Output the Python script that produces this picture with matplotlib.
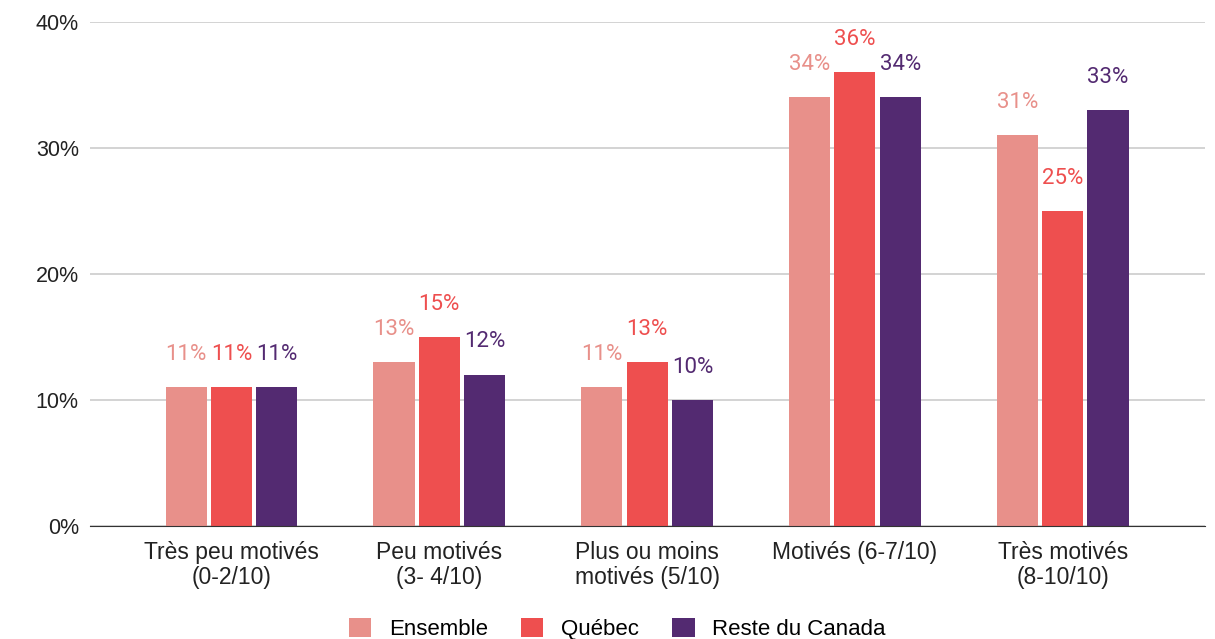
import numpy as np
import matplotlib.pyplot as plt

categories = ['Très peu motivés\n(0-2/10)', 'Peu motivés\n(3- 4/10)', 'Plus ou moins\nmotivés (5/10)',
              'Motivés (6-7/10)', 'Très motivés\n(8-10/10)']
series = ['Ensemble', 'Québec', 'Reste du Canada']
ensemble = [11, 13, 11, 34, 31]
quebec = [11, 15, 13, 36, 25]
reste = [11, 12, 10, 34, 33]
colors = ['#E8908A', '#EE4F4F', '#532A71']

fig = plt.figure(figsize=(12.15, 6.39), dpi=100)
ax = fig.add_axes([0.074, 0.177, 0.918, 0.789])

x = np.arange(len(categories))
w = 0.198
off = 0.218
for i, (name, vals, c) in enumerate(zip(series, [ensemble, quebec, reste], colors)):
    pos = x + (i - 1) * off
    bars = ax.bar(pos, vals, width=w, color=c, label=name, zorder=3)
    for b, v in zip(bars, vals):
        ax.annotate(f'{v}%', (b.get_x() + b.get_width() / 2, v), xytext=(0, 16),
                    textcoords='offset points', ha='center', va='bottom',
                    color=c, fontsize=16, family='Roboto')

ax.set_xlim(-0.681, 4.686)
ax.set_ylim(0, 40)
ax.set_yticks([0, 10, 20, 30, 40])
ax.set_yticklabels(['0%', '10%', '20%', '30%', '40%'], family='Liberation Sans', fontsize=15.5)
ax.set_xticks(x)
ax.set_xticklabels(categories, family='Liberation Sans', fontsize=16.5, linespacing=1.1)
ax.tick_params(axis='both', length=0, colors='#222222')
ax.tick_params(axis='y', pad=8)
ax.tick_params(axis='x', pad=11)
ax.grid(axis='y', color='#cccccc', linewidth=1.2, zorder=0)
for s in ['left', 'right', 'top']:
    ax.spines[s].set_visible(False)
ax.spines['bottom'].set_color('#333333')
ax.spines['bottom'].set_zorder(4)

fig.legend(loc='lower center', bbox_to_anchor=(0.508, -0.033), ncol=3, frameon=False,
           prop={'family': 'Liberation Sans', 'size': 16}, handlelength=1.0, handleheight=1.0,
           columnspacing=1.5, handletextpad=0.8)

fig.savefig('out.png')
